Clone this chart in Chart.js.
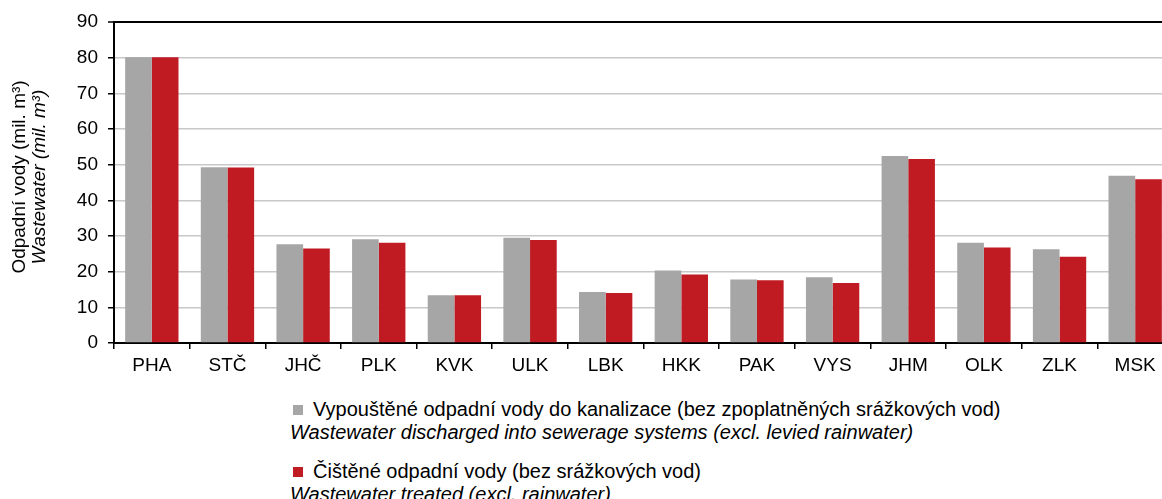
<!DOCTYPE html>
<html>
<head>
<meta charset="utf-8">
<script src="https://cdn.jsdelivr.net/npm/chart.js@4/dist/chart.umd.min.js"></script>
<style>
  html, body { margin: 0; padding: 0; background: #fff; overflow: hidden; }
  body { width: 1162px; height: 499px; position: relative; font-family: 'Liberation Sans', Arial, sans-serif; color: #000; }
  #wrap { position: absolute; left: 0; top: 0; width: 1173px; height: 375px; }
  .row { position: absolute; left: 290px; font-size: 20px; line-height: 23px; white-space: nowrap; }
  .row .box { position: absolute; left: 3px; top: 7px; width: 10px; height: 10px; }
  .row .cz { padding-left: 23px; }
  .row i { display: block; }
</style>
</head>
<body>
<div id="wrap"><canvas id="chart" width="1173" height="375"></canvas></div>
<div id="legend"></div>
<script>
// regions (kraje)
const regions = ['PHA', 'STČ', 'JHČ', 'PLK', 'KVK', 'ULK', 'LBK', 'HKK', 'PAK', 'VYS', 'JHM', 'OLK', 'ZLK', 'MSK'];
// mil. m3
const discharged = [80.1, 49.3, 27.7, 29.1, 13.4, 29.5, 14.3, 20.3, 17.8, 18.4, 52.4, 28.1, 26.3, 46.9];
const treated = [80.1, 49.2, 26.5, 28.1, 13.4, 28.9, 14.0, 19.2, 17.6, 16.8, 51.6, 26.8, 24.2, 45.9];
const yTicks = [0, 10, 20, 30, 40, 50, 60, 70, 80, 90];

const seriesCz = ['Vypouštěné odpadní vody do kanalizace (bez zpoplatněných srážkových vod)', 'Čištěné odpadní vody (bez srážkových vod)'];
const seriesEn = ['Wastewater discharged into sewerage systems (excl. levied rainwater)', 'Wastewater treated (excl. rainwater)'];
const colors = ['#a6a6a6', '#c01b23'];

const font = "'Liberation Sans', Arial, sans-serif";

// rotated two-line y axis title (second line italic)
const yTitle = {
  id: 'yTitle',
  afterDraw(chart) {
    const ctx = chart.ctx;
    ctx.save();
    ctx.fillStyle = '#000';
    ctx.textAlign = 'center';
    ctx.textBaseline = 'middle';
    ctx.translate(20, 177);
    ctx.rotate(-Math.PI / 2);
    ctx.font = `19px ${font}`;
    ctx.fillText('Odpadní vody (mil. m³)', 0, 0);
    ctx.font = `italic 19px ${font}`;
    ctx.fillText('Wastewater (mil. m³)', 0, 20);
    ctx.restore();
  }
};

new Chart(document.getElementById('chart'), {
  type: 'bar',
  data: {
    labels: regions,
    datasets: [
      { label: seriesCz[0], data: discharged, backgroundColor: colors[0], categoryPercentage: 0.705, barPercentage: 1.0 },
      { label: seriesCz[1], data: treated, backgroundColor: colors[1], categoryPercentage: 0.705, barPercentage: 1.0 }
    ]
  },
  options: {
    responsive: false,
    animation: false,
    layout: { padding: { top: 22, right: 0, bottom: 0, left: 0 } },
    plugins: { legend: { display: false }, tooltip: { enabled: false }, title: { display: false } },
    scales: {
      x: {
        grid: { drawOnChartArea: false, drawTicks: true, tickLength: 6, color: '#000', lineWidth: 1.5 },
        border: { color: '#000', width: 2 },
        ticks: { color: '#000', font: { family: font, size: 19 }, padding: 5 },
        afterFit(scale) { scale.height = 32; }
      },
      y: {
        min: 0, max: 90,
        afterBuildTicks(scale) { scale.ticks = yTicks.map(v => ({ value: v })); },
        grid: {
          color: ctx => ctx.tick && ctx.tick.value === 90 ? '#000' : '#c8c8c8',
          lineWidth: ctx => ctx.tick && ctx.tick.value === 90 ? 2 : 1.5,
          tickColor: '#000', tickLength: 6, tickWidth: 1.5
        },
        border: { color: '#000', width: 2 },
        ticks: { color: '#000', font: { family: font, size: 19 }, padding: 10 },
        afterFit(scale) { scale.width = 114; }
      }
    }
  },
  plugins: [yTitle]
});

const rowTops = [398, 460];
document.getElementById('legend').innerHTML = seriesCz.map((s, i) =>
  `<div class="row" style="top:${rowTops[i]}px">
     <span class="box" style="background:${colors[i]}"></span><div class="cz">${s}</div><i>${seriesEn[i]}</i>
   </div>`).join('');
</script>
</body>
</html>
